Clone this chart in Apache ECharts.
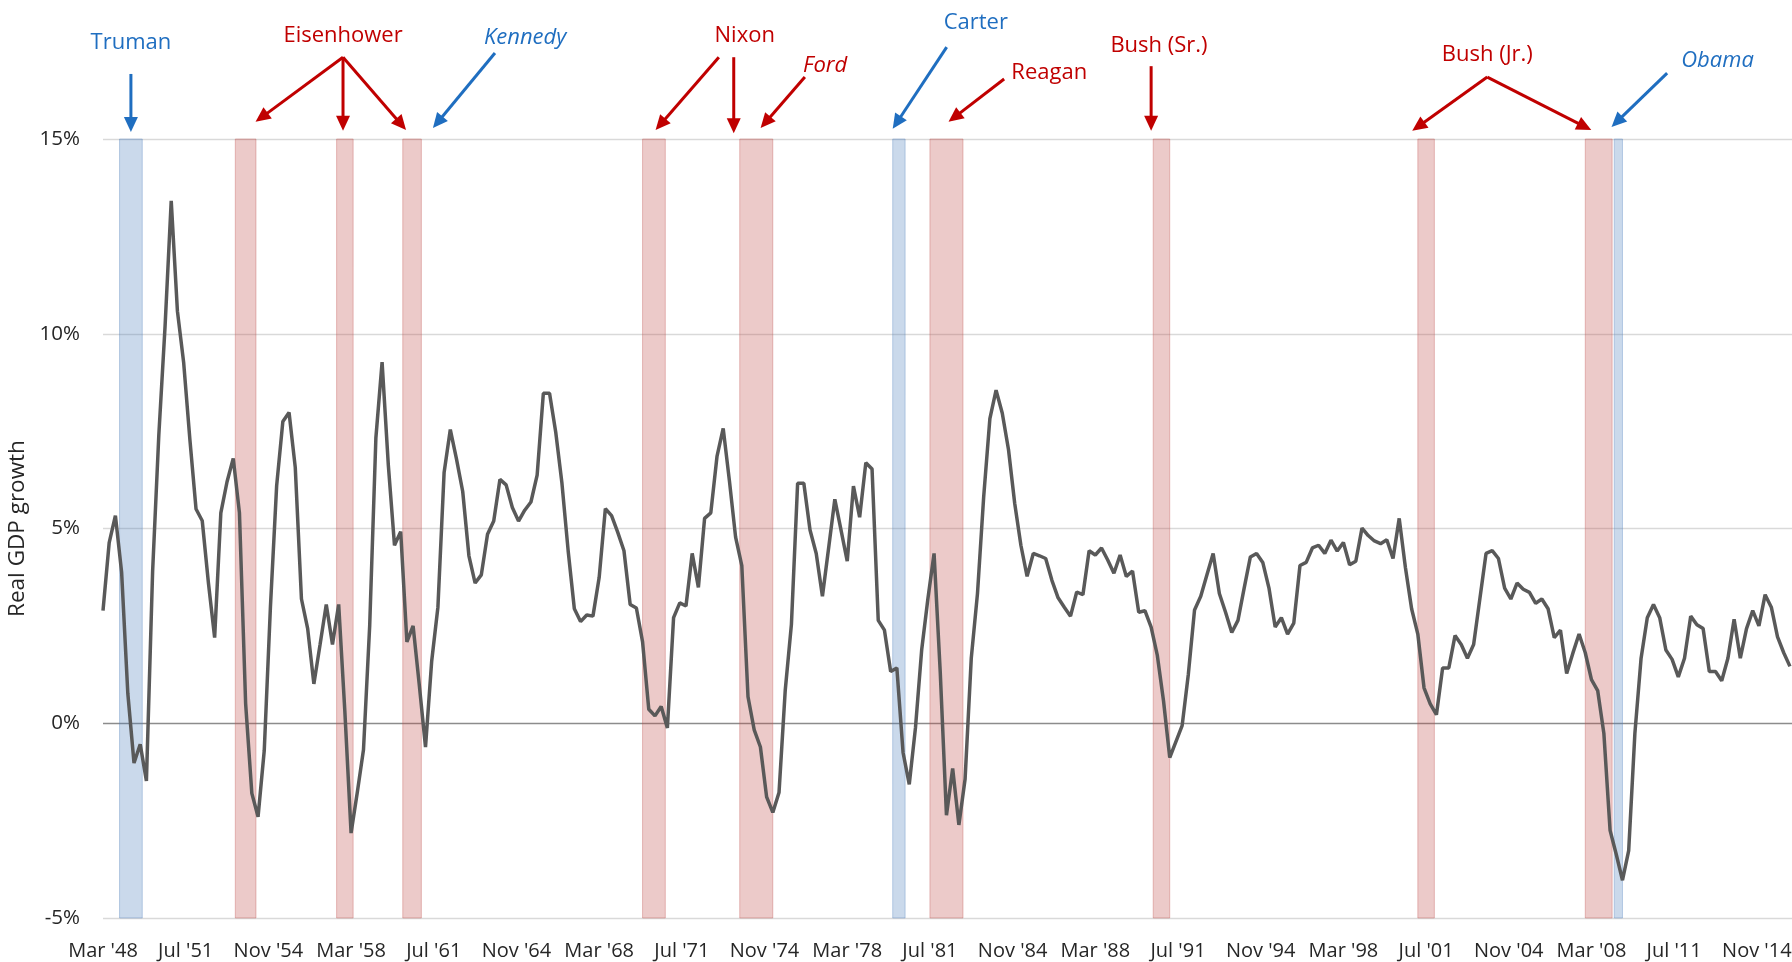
<!DOCTYPE html>
<html><head><meta charset="utf-8">
<script src="https://cdn.jsdelivr.net/npm/echarts@6/dist/echarts.min.js"></script>
<style>html,body{margin:0;padding:0;background:#fff}#c{width:1792px;height:962px}</style>
</head><body><div id="c"></div>
<script>
// Quarterly real GDP growth (%), first value = Mar '48, one value per quarter
const gdpGrowth = [
 2.89,4.64,5.33,3.88,0.77,-1.02,-0.54,-1.48,3.9,7.4,
 10.17,13.41,10.58,9.27,7.3,5.5,5.2,3.6,2.2,5.4,
 6.2,6.8,5.4,0.5,-1.8,-2.4,-0.7,3.0,6.1,7.75,
 7.98,6.57,3.19,2.43,1.01,2.02,3.05,2.02,3.05,0.29,
 -2.82,-1.78,-0.68,2.5,7.33,9.27,6.64,4.57,4.92,2.09,
 2.5,0.98,-0.61,1.6,2.98,6.44,7.54,6.78,5.95,4.3,
 3.6,3.81,4.85,5.19,6.26,6.12,5.54,5.19,5.47,5.68,
 6.37,8.47,8.47,7.47,6.16,4.43,2.94,2.61,2.78,2.75,
 3.74,5.51,5.33,4.9,4.43,3.05,2.96,2.09,0.36,0.19,
 0.43,-0.12,2.71,3.09,3.01,4.36,3.49,5.26,5.4,6.85,
 7.57,6.23,4.78,4.05,0.68,-0.17,-0.61,-1.89,-2.29,-1.78,
 0.84,2.54,6.16,6.16,4.96,4.36,3.26,4.5,5.75,4.96,
 4.16,6.09,5.29,6.69,6.53,2.64,2.39,1.33,1.42,-0.75,
 -1.57,-0.12,1.88,3.19,4.36,1.3,-2.36,-1.16,-2.61,-1.44,
 1.67,3.33,5.81,7.82,8.55,7.96,7.03,5.65,4.57,3.77,
 4.36,4.3,4.23,3.67,3.22,2.98,2.75,3.37,3.3,4.43,
 4.32,4.5,4.19,3.85,4.32,3.77,3.91,2.85,2.89,2.47,
 1.74,0.57,-0.88,-0.47,-0.06,1.26,2.91,3.26,3.81,4.36,
 3.33,2.85,2.33,2.64,3.47,4.27,4.36,4.13,3.47,2.47,
 2.71,2.29,2.57,4.05,4.13,4.5,4.57,4.36,4.7,4.42,
 4.64,4.07,4.16,5.01,4.82,4.68,4.61,4.71,4.23,5.26,
 4.0,2.94,2.29,0.91,0.5,0.22,1.42,1.42,2.25,2.02,
 1.67,2.02,3.19,4.36,4.43,4.23,3.47,3.19,3.6,3.44,
 3.36,3.08,3.19,2.94,2.2,2.39,1.28,1.8,2.29,1.81,
 1.12,0.84,-0.26,-2.75,-3.37,-4.03,-3.27,-0.26,1.67,2.71,
 3.05,2.71,1.88,1.64,1.19,1.67,2.75,2.53,2.43,1.33,
 1.33,1.09,1.67,2.67,1.67,2.43,2.89,2.5,3.3,2.98,
 2.22,1.81,1.46
];
// x axis: months counted from Mar '48; tick labels every 40 months
const xTickLabels = ["Mar '48","Jul '51","Nov '54","Mar '58","Jul '61","Nov '64","Mar '68","Jul '71","Nov '74","Mar '78","Jul '81","Nov '84","Mar '88","Jul '91","Nov '94","Mar '98","Jul '01","Nov '04","Mar '08","Jul '11","Nov '14"];
// Recessions (months from Mar '48) and party of the president
const recessionStart = [8, 64, 113, 145, 261, 308, 382, 400, 508, 636, 717, 731];
const recessionEnd   = [19, 74, 121, 154, 272, 324, 388, 416, 516, 644, 730, 735];
const recessionParty = ['D','R','R','R','R','R','D','R','R','R','R','D'];
// President labels
const presNames  = ['Truman','Eisenhower','Kennedy','Nixon','Ford','Carter','Reagan','Bush (Sr.)','Bush (Jr.)','Obama'];
const presParty  = ['D','R','D','R','R','D','R','R','R','D'];
const presItalic = [false,false,true,false,true,false,false,false,false,true];

// annotation layout in data coordinates [month, percent]
const annLayout = [
 {label:[13.5,17.46], arrows:[[13.5,16.67,13.5,15.18]]},
 {label:[116.1,17.64], arrows:[[116.1,17.1,73.8,15.44],[116.1,17.1,116.1,15.21],[116.1,17.1,146.6,15.23]]},
 {label:[204.2,17.59], arrows:[[189.6,17.21,159.6,15.28]]},
 {label:[310.4,17.64], arrows:[[297.9,17.1,267.3,15.23],[305.1,17.1,305.1,15.15]]},
 {label:[349.3,16.87], arrows:[[339.5,16.59,318.1,15.28]]},
 {label:[422.2,17.98], arrows:[[408.1,17.36,382,15.26]]},
 {label:[457.7,16.69], arrows:[[435.9,16.54,409,15.44]]},
 {label:[510.8,17.39], arrows:[[507,16.87,507,15.21]]},
 {label:[669.6,17.16], arrows:[[669.6,16.59,633.3,15.21],[669.6,16.59,719.9,15.23]]},
 {label:[781,17.0], arrows:[[756.6,16.69,729.7,15.31]]}
];

const RED = '#C00000', BLUE = '#1F6EC0';
const FONT = '"Open Sans", "Noto Sans", sans-serif';

const seriesData = gdpGrowth.map((v, i) => [i * 3, v]);
const bandData = recessionStart.map((s, i) => {
  const dem = recessionParty[i] === 'D';
  const style = dem
    ? {color: 'rgba(79,129,189,0.30)', borderColor: 'rgba(79,129,189,0.35)', borderWidth: 1}
    : {color: 'rgba(192,80,77,0.30)', borderColor: 'rgba(192,80,77,0.35)', borderWidth: 1};
  return [{xAxis: s, itemStyle: style}, {xAxis: recessionEnd[i]}];
});

const chart = echarts.init(document.getElementById('c'), null, {renderer: 'canvas'});
chart.setOption({
  animation: false,
  backgroundColor: '#fff',
  grid: {left: 103, right: 0, top: 139, bottom: 44, containLabel: false, outerBoundsMode: 'none'},
  xAxis: {
    type: 'value', min: 0, max: 817, interval: 40,
    axisLine: {show: false}, axisTick: {show: false}, splitLine: {show: false},
    axisLabel: {
      margin: 23, color: '#262626', fontSize: 20, fontFamily: FONT,
      showMaxLabel: false, hideOverlap: false,
      formatter: v => (v % 40 === 0 && xTickLabels[v / 40] !== undefined) ? xTickLabels[v / 40] : ''
    }
  },
  yAxis: {
    type: 'value', min: -5, max: 15, interval: 5,
    name: 'Real GDP growth', nameLocation: 'middle', nameGap: 65, nameRotate: 90,
    nameTextStyle: {fontSize: 22.5, color: '#262626', fontFamily: FONT},
    axisLine: {show: false}, axisTick: {show: false},
    axisLabel: {margin: 23, color: '#262626', fontSize: 20.5, fontFamily: FONT, formatter: '{value}%'},
    splitLine: {show: true, lineStyle: {color: ['#d9d9d9', '#8c8c8c', '#d9d9d9', '#d9d9d9', '#d9d9d9'], width: 1.3}}
  },
  series: [{
    type: 'line', data: seriesData, showSymbol: false, symbol: 'none',
    lineStyle: {color: '#595959', width: 3.5}, z: 5,
    markArea: {silent: true, data: bandData}
  }]
});

function arrowGraphics(x1, y1, x2, y2, color) {
  const dx = x2 - x1, dy = y2 - y1, len = Math.hypot(dx, dy);
  const ux = dx / len, uy = dy / len, nx = -uy, ny = ux;
  const L = 15, W = 7;
  const bx = x2 - ux * L, by = y2 - uy * L;
  return [
    {type: 'line', shape: {x1, y1, x2: bx + ux * 2, y2: by + uy * 2}, style: {stroke: color, lineWidth: 3}, silent: true},
    {type: 'polygon', shape: {points: [[x2, y2], [bx + nx * W, by + ny * W], [bx - nx * W, by - ny * W]]}, style: {fill: color}, silent: true}
  ];
}

const graphics = [];
presNames.forEach((name, i) => {
  const color = presParty[i] === 'D' ? BLUE : RED;
  const lay = annLayout[i];
  const p = chart.convertToPixel({gridIndex: 0}, lay.label);
  graphics.push({
    type: 'text', x: p[0], y: p[1], silent: true,
    style: {
      text: name, fill: color,
      font: (presItalic[i] ? 'italic ' : '') + '22px ' + FONT,
      textAlign: 'center', textVerticalAlign: 'middle', align: 'center', verticalAlign: 'middle'
    }
  });
  lay.arrows.forEach(a => {
    const s = chart.convertToPixel({gridIndex: 0}, [a[0], a[1]]);
    const e = chart.convertToPixel({gridIndex: 0}, [a[2], a[3]]);
    graphics.push(...arrowGraphics(s[0], s[1], e[0], e[1], color));
  });
});
chart.setOption({graphic: graphics});
</script>
</body></html>
